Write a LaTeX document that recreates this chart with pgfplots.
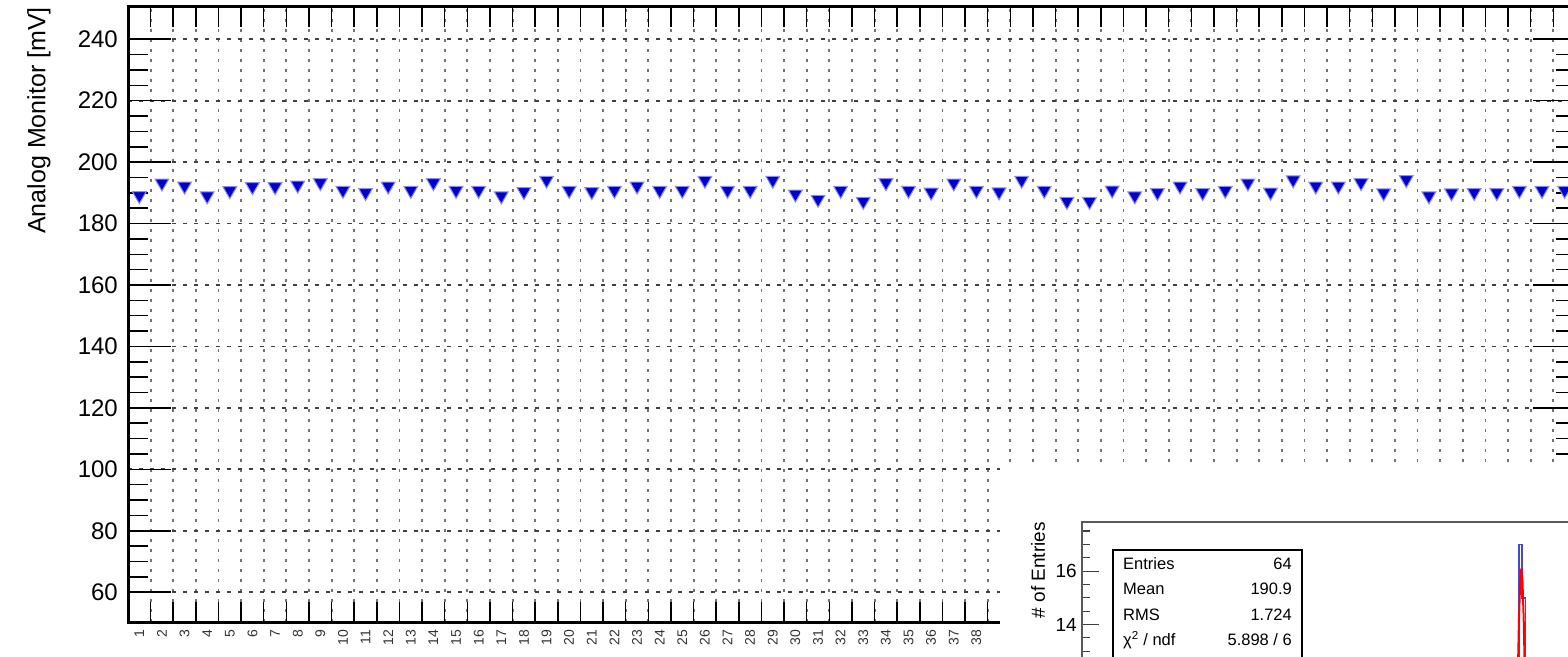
\documentclass[border=0pt]{standalone}
\usepackage{fontspec}
\setmainfont{Liberation Sans}
\usepackage{pgfplots}
\pgfplotsset{compat=1.18}
\definecolor{mk}{RGB}{0,0,205}
\definecolor{mkl}{RGB}{140,140,240}
\definecolor{hb}{RGB}{70,70,210}
\begin{document}
\begin{tikzpicture}
\useasboundingbox (0pt,0pt) rectangle (1568pt,656pt);
\clip (0pt,0pt) rectangle (1568pt,656pt);
% main axis: frame, grids, short ticks, y labels, data
\begin{axis}[at={(128pt,34pt)}, anchor=south west, scale only axis,
  width=1448pt, height=615pt,
  xmin=-0.5, xmax=63.5, ymin=50.3, ymax=250.5,
  axis line style={line width=3pt},
  xtick={0.5,1.5,...,62.5}, xticklabels={},
  ytick={60,80,...,240}, minor y tick num=3,
  major tick length=20pt, minor tick length=20pt,
  tick style={black, line width=1.5pt},
  tick align=inside, tick pos=both,
  xmajorgrids, ymajorgrids,
  major x grid style={dash pattern=on 3pt off 7pt, black!55, line width=1.8pt},
  major y grid style={dash pattern=on 4pt off 7pt, black!75, line width=1.8pt},
  /pgf/number format/assume math mode=true,
  yticklabel style={font=\fontsize{24pt}{24pt}\selectfont, anchor=east, inner sep=0pt, xshift=-10pt},
  ylabel={Analog Monitor [mV]},
  ylabel style={font=\fontsize{25pt}{25pt}\selectfont, at={(axis description cs:-0.0615,1)}, anchor=east, inner sep=0pt},
]
\addplot[only marks, mark=triangle*, mark size=8pt,
  mark options={rotate=180, fill=mk, draw=mkl, line width=1pt}] coordinates {
(0,189.1) (1,193.2) (2,192.2) (3,189.0) (4,190.7) (5,192.0) (6,192.0) (7,192.5)
(8,193.3) (9,190.8) (10,190.1) (11,192.2) (12,190.8) (13,193.3) (14,190.8) (15,190.8)
(16,189.0) (17,190.4) (18,194.1) (19,190.8) (20,190.4) (21,190.8) (22,192.2) (23,190.8)
(24,190.8) (25,194.1) (26,190.8) (27,190.8) (28,194.1) (29,189.6) (30,187.9) (31,190.8)
(32,187.2) (33,193.3) (34,190.8) (35,190.2) (36,193.2) (37,190.8) (38,190.3) (39,194.1)
(40,190.8) (41,187.2) (42,187.2) (43,190.9) (44,189.0) (45,190.1) (46,192.2) (47,190.1)
(48,190.8) (49,193.2) (50,190.2) (51,194.2) (52,192.2) (53,192.2) (54,193.3) (55,190.0)
(56,194.3) (57,189.0) (58,190.0) (59,190.1) (60,190.1) (61,190.8) (62,190.8) (63,190.8)
};
\end{axis}
% overlay axis: x labels at bin centres (those not hidden by the inset), long major y ticks
\begin{axis}[at={(128pt,34pt)}, anchor=south west, scale only axis,
  width=1448pt, height=615pt,
  xmin=-0.5, xmax=63.5, ymin=50.3, ymax=250.5,
  axis line style={line width=3pt},
  xtick={0,...,37},
  xticklabels={1,2,3,4,5,6,7,8,9,10,11,12,13,14,15,16,17,18,19,20,21,22,23,24,25,26,27,28,29,30,31,32,33,34,35,36,37,38},
  xtick style={draw=none},
  ytick={60,80,...,240}, yticklabels={},
  major tick length=43pt,
  ytick style={black, line width=1.5pt},
  tick align=inside, tick pos=both,
  xticklabel style={font=\fontsize{14pt}{14pt}\selectfont, yshift=-8pt, rotate=90, anchor=east, inner sep=0pt, text=black!80},
]
\end{axis}
% inset panel
\fill[white] (1000pt,0pt) rectangle (1568pt,193pt);
\begin{axis}[at={(1082pt,134pt)}, anchor=north west, scale only axis,
  width=637.8pt, height=476.3pt,
  xmin=59.6, xmax=250, ymin=0, ymax=17.84,
  axis line style={black!65, line width=1.5pt},
  xtick=\empty, ytick={0,2,...,18}, minor y tick num=3,
  yticklabels={,,,,,,,14,16,18},
  major tick length=17pt, minor tick length=8pt,
  tick style={black!75, line width=1.2pt}, tick align=inside, ytick pos=left,
  /pgf/number format/assume math mode=true,
  yticklabel style={font=\fontsize{19pt}{19pt}\selectfont, anchor=east, inner sep=0pt, xshift=-5pt},
  ylabel={\# of Entries},
  ylabel style={font=\fontsize{19pt}{19pt}\selectfont, at={(axis description cs:-0.069,1)}, anchor=east, inner sep=0pt},
]
\addplot[const plot mark left, draw=hb, line width=1.5pt] coordinates {
(186,0) (186,1) (187,3) (188,6) (189,10) (190,17) (191,15) (192,8) (193,3) (194,1) (195,1) (195,0)
};
\addplot[red, line width=2pt] coordinates {
(185.15,0.0) (185.85,0.035) (186.55,0.18) (187.25,0.71) (187.95,2.18) (188.65,5.23)
(189.35,9.77) (189.70,12.15) (190.05,14.21) (190.40,15.60) (190.75,16.10) (191.10,15.60)
(191.45,14.21) (191.80,12.15) (192.15,9.77) (192.85,5.23) (193.55,2.18) (194.25,0.71)
(194.95,0.18) (195.65,0.035) (196.35,0.0)
};
\end{axis}
% statistics box
\draw[black, line width=1.5pt, fill=white] (1113pt,106pt) rectangle (1302pt,-50pt);
\begin{scope}[every node/.style={font=\fontsize{16.5pt}{16.5pt}\selectfont, inner sep=0pt}]
\node[anchor=west] at (1123pt,92pt) {Entries};
\node[anchor=east] at (1292pt,92pt) {64};
\node[anchor=west] at (1123pt,67pt) {Mean};
\node[anchor=east] at (1292pt,67pt) {190.9};
\node[anchor=west] at (1123pt,41.5pt) {RMS};
\node[anchor=east] at (1292pt,41.5pt) {1.724};
\node[anchor=west] at (1123pt,16pt) {χ\textsuperscript{2} / ndf};
\node[anchor=east] at (1292pt,16pt) {5.898 / 6};
\end{scope}
\end{tikzpicture}
\end{document}
